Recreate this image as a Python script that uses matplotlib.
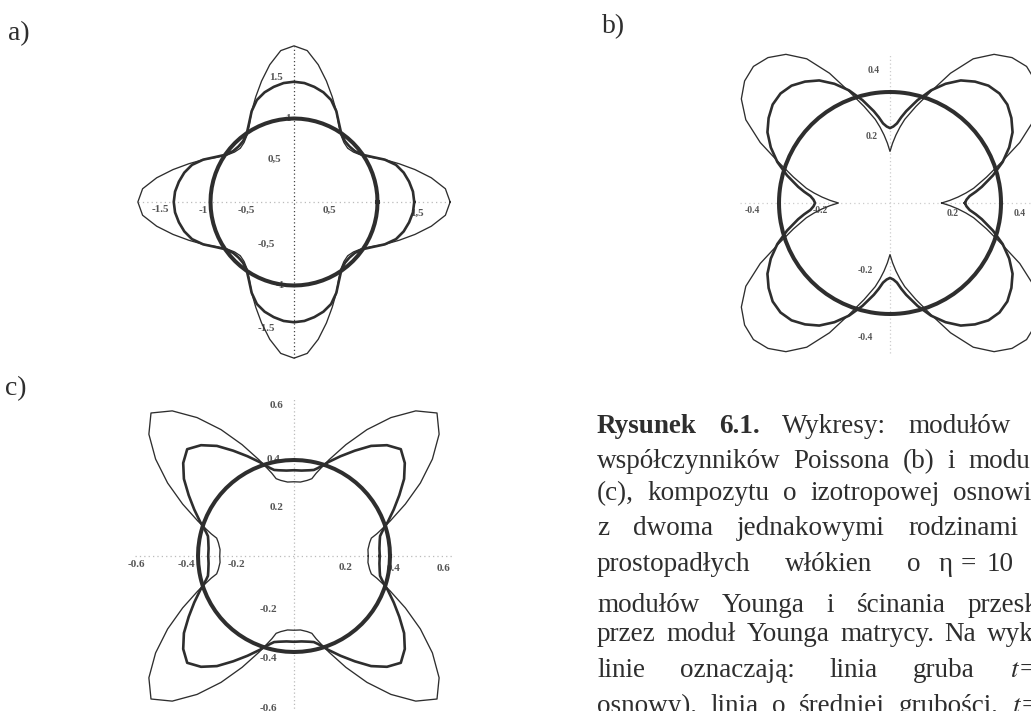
import numpy as np
import matplotlib.pyplot as plt

# radii read in one octant (angle from the nearest axis, degrees); curves are mirrored
phi_a = [0, 5, 10, 15, 20, 25, 30, 35, 40, 45]
a_thin = [1.87, 1.82, 1.67, 1.50, 1.34, 1.20, 1.07, 0.98, 0.93, 0.91]
a_mid = [1.44, 1.43, 1.40, 1.36, 1.30, 1.20, 1.08, 0.99, 0.95, 0.94]
a_thick = [1.0] * len(phi_a)

phi_b = [0, 2.5, 5, 7.5, 10, 15, 20, 25, 30, 35, 40, 45]
b_thin = [0.155, 0.18, 0.205, 0.23, 0.255, 0.30, 0.355, 0.43, 0.50, 0.545, 0.57, 0.58]
b_mid = [0.225, 0.23, 0.24, 0.26, 0.28, 0.32, 0.36, 0.395, 0.425, 0.445, 0.46, 0.465]
b_thick = [1 / 3] * len(phi_b)

phi_c = [0, 5, 10, 13, 15, 17.5, 20, 25, 30, 35, 40, 45]
c_thin = [0.29, 0.29, 0.30, 0.31, 0.335, 0.365, 0.40, 0.48, 0.57, 0.66, 0.74, 0.79]
c_mid = [0.335, 0.335, 0.34, 0.345, 0.355, 0.37, 0.39, 0.43, 0.475, 0.525, 0.565, 0.59]
c_thick = [0.375] * len(phi_c)

ticks_a = [("1.5", -0.21, 1.49), ("0,5", -0.24, 0.51), ("-0,5", -0.57, -0.10), ("0,5", 0.43, -0.10),
           ("-0,5", -0.33, -0.51), ("-1.5", -0.33, -1.51), ("-1.5", -1.60, -0.09), ("-1", -1.09, -0.10),
           ("1,5", 1.47, -0.13), ("1", -0.07, 1.0), ("-1", -0.17, -1.0)]
ticks_b = [("0.4", -0.05, 0.397), ("0.2", -0.055, 0.199), ("-0.2", -0.075, -0.203), ("-0.4", -0.075, -0.403),
           ("-0.4", -0.415, -0.023), ("-0.2", -0.21, -0.023), ("0.2", 0.188, -0.031), ("0.4", 0.388, -0.031)]
ticks_c = [("0.6", -0.068, 0.586), ("0.4", -0.081, 0.378), ("0.2", -0.068, 0.19), ("-0.2", -0.10, -0.208),
           ("-0.4", -0.10, -0.40), ("-0.6", -0.10, -0.595), ("-0.6", -0.614, -0.035), ("-0.4", -0.42, -0.035),
           ("-0.2", -0.224, -0.035), ("0.2", 0.2, -0.044), ("0.4", 0.388, -0.048), ("0.6", 0.583, -0.048)]

# caption lines: baseline, justified words, x of last justified word, extra words placed after
caption = [
    (433, ["Rysunek", "6.1.", "Wykresy:", "modułów"], 908, []),
    (468, ["współczynników", "Poissona", "(b)", "i", "modu"], 968, []),
    (500, ["(c),", "kompozytu", "o", "izotropowej", "osnowi"], 953, []),
    (535, ["z", "dwoma", "jednakowymi", "rodzinami"], 908, []),
    (571, ["prostopadłych", "włókien", "o"], 907, [("η", 939), ("=", 961), ("10", 987)]),
    (612, ["modułów", "Younga", "i", "ścinania", "przesk"], 968, []),
    (641, ["przez", "moduł", "Younga", "matrycy.", "Na", "wyk"], 987, []),
    (677, ["linie", "oznaczają:", "linia", "gruba", "$t$"], 1010, [("=", 1020)]),
    (713, ["osnowy),", "linia", "o", "średniej", "grubości,", "$t$"], 1012, [("=", 1022)]),
]
bold_words = ["Rysunek", "6.1."]

W, H = 1031, 711
ink = "#2e2e2e"
plt.rcParams['mathtext.fontset'] = 'stix'
fig = plt.figure(figsize=(W / 100, H / 100), dpi=100)
fig.patch.set_facecolor("white")


def full_curve(phi, r):
    phi = np.asarray(phi, float)
    r = np.asarray(r, float)
    q_t = np.concatenate([phi, 90 - phi[::-1][1:]])
    q_r = np.concatenate([r, r[::-1][1:]])
    th = np.concatenate([q_t + 90 * k for k in range(4)] + [[360]])
    rr = np.concatenate([q_r] * 4 + [[r[0]]])
    th = np.radians(th)
    return rr * np.cos(th), rr * np.sin(th)


def panel(cx, cy, scale, half):
    ax = fig.add_axes([(cx - half) / W, (H - cy - half) / H, 2 * half / W, 2 * half / H])
    lim = half / scale
    ax.set_xlim(-lim, lim)
    ax.set_ylim(-lim, lim)
    ax.axis("off")
    return ax


def draw(ax, phi, curves, reach, ticks, fs, vcol, hcol):
    ax.plot([0, 0], [-reach, reach], ls=(0, (1, 2)), color=vcol, lw=0.9, zorder=1, clip_on=False)
    ax.plot([-reach, reach], [0, 0], ls=(0, (1, 2.5)), color=hcol, lw=0.9, zorder=1, clip_on=False)
    for txt, x, y in ticks:
        ax.text(x, y, txt, fontsize=fs, family="Liberation Serif", fontweight="bold",
                color="#555555", ha="center", va="center", zorder=2, clip_on=False)
    for r, lw in zip(curves, [0.95, 1.9, 2.9]):
        x, y = full_curve(phi, r)
        ax.plot(x, y, color=ink, lw=lw, zorder=3, clip_on=False, solid_joinstyle="round")


ax_a = panel(294, 202, 83.5, 175)
draw(ax_a, phi_a, [a_thin, a_mid, a_thick], 1.87, ticks_a, 8, "#444444", "#bbbbbb")

ax_b = panel(890, 203, 333, 200)
draw(ax_b, phi_b, [b_thin, b_mid, b_thick], 0.45, ticks_b, 7, "#cccccc", "#cccccc")

ax_c = panel(294, 556, 256, 200)
draw(ax_c, phi_c, [c_thin, c_mid, c_thick], 0.62, ticks_c, 8, "#bbbbbb", "#bbbbbb")

for lab, x, y in [("a)", 8, 40), ("b)", 602, 33), ("c)", 5, 395)]:
    fig.text(x / W, 1 - y / H, lab, fontsize=20, family="Liberation Serif", color=ink,
             ha="left", va="baseline")


def word(x, base, w):
    return fig.text(x / W, 1 - base / H, w, fontsize=19.5, family="Liberation Serif",
                    fontweight="bold" if w in bold_words else "normal", color=ink,
                    ha="left", va="baseline")


renderer = fig.canvas.get_renderer()
x0 = 597
for base, words, x_last, extra in caption:
    texts = [word(x0, base, w) for w in words]
    widths = [t.get_window_extent(renderer).width for t in texts]
    gap = (x_last - x0 - sum(widths[:-1])) / (len(words) - 1)
    x = x0
    for t, wd in zip(texts, widths):
        t.set_x(x / W)
        x += wd + gap
    for w, xe in extra:
        word(xe, base, w)

fig.savefig("out.png", dpi=100, facecolor="white")
